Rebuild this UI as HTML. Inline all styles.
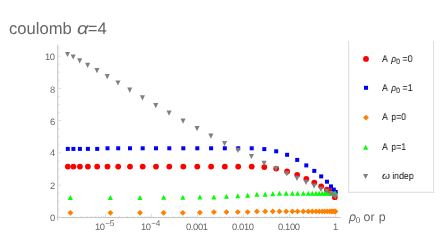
<!DOCTYPE html>
<html><head><meta charset="utf-8"><style>
html,body{margin:0;padding:0;background:#fff;}
body{width:443px;height:243px;position:relative;overflow:hidden;font-family:"Liberation Sans",sans-serif;}
.t{position:absolute;white-space:nowrap;line-height:1;color:#666666;will-change:transform;text-rendering:geometricPrecision;}
.tk{letter-spacing:-0.36px;}
.lg{color:#0d0d0d;transform:scaleX(0.9);transform-origin:0 0;}
sub.s{font-size:0.8em;vertical-align:baseline;position:relative;top:0.3em;line-height:0;}
sub.s2{font-size:0.67em;vertical-align:baseline;position:relative;top:1.9px;line-height:0;margin-left:-0.3px;margin-right:-0.3px;}
sup.s{font-size:0.88em;vertical-align:baseline;position:relative;top:-0.45em;line-height:0;margin-left:0.6px;}
i{font-style:italic;}
.a{margin-right:1.1px;}
.om{display:inline-block;transform:scaleX(1.18);transform-origin:0 100%;margin-right:1.2px;}
.al{display:inline-block;transform:scaleX(1.2);transform-origin:0 100%;margin-left:0.8px;margin-right:1.2px;}
</style></head><body>
<svg width="443" height="243" viewBox="0 0 443 243" style="position:absolute;left:0;top:0">
<rect x="57.2" y="44.7" width="1.1" height="175.8" fill="#c6c6c6"/>
<rect x="56.5" y="216.95" width="284.2" height="1.1" fill="#c6c6c6"/>
<rect x="58" y="216.90" width="3.2" height="1" fill="#e0e0e0"/>
<rect x="58" y="208.84" width="1.8" height="1" fill="#e0e0e0"/>
<rect x="58" y="200.77" width="1.8" height="1" fill="#e0e0e0"/>
<rect x="58" y="192.71" width="1.8" height="1" fill="#e0e0e0"/>
<rect x="58" y="184.64" width="3.2" height="1" fill="#e0e0e0"/>
<rect x="58" y="176.58" width="1.8" height="1" fill="#e0e0e0"/>
<rect x="58" y="168.51" width="1.8" height="1" fill="#e0e0e0"/>
<rect x="58" y="160.44" width="1.8" height="1" fill="#e0e0e0"/>
<rect x="58" y="152.38" width="3.2" height="1" fill="#e0e0e0"/>
<rect x="58" y="144.31" width="1.8" height="1" fill="#e0e0e0"/>
<rect x="58" y="136.25" width="1.8" height="1" fill="#e0e0e0"/>
<rect x="58" y="128.19" width="1.8" height="1" fill="#e0e0e0"/>
<rect x="58" y="120.12" width="3.2" height="1" fill="#e0e0e0"/>
<rect x="58" y="112.06" width="1.8" height="1" fill="#e0e0e0"/>
<rect x="58" y="103.99" width="1.8" height="1" fill="#e0e0e0"/>
<rect x="58" y="95.93" width="1.8" height="1" fill="#e0e0e0"/>
<rect x="58" y="87.86" width="3.2" height="1" fill="#e0e0e0"/>
<rect x="58" y="79.80" width="1.8" height="1" fill="#e0e0e0"/>
<rect x="58" y="71.73" width="1.8" height="1" fill="#e0e0e0"/>
<rect x="58" y="63.67" width="1.8" height="1" fill="#e0e0e0"/>
<rect x="58" y="55.60" width="3.2" height="1" fill="#e0e0e0"/>
<rect x="58" y="47.54" width="1.8" height="1" fill="#e0e0e0"/>
<rect x="59.00" y="216.10" width="1" height="0.9" fill="#e0e0e0"/>
<rect x="72.85" y="216.10" width="1" height="0.9" fill="#e0e0e0"/>
<rect x="80.95" y="216.10" width="1" height="0.9" fill="#e0e0e0"/>
<rect x="86.69" y="216.10" width="1" height="0.9" fill="#e0e0e0"/>
<rect x="91.15" y="216.10" width="1" height="0.9" fill="#e0e0e0"/>
<rect x="94.79" y="216.10" width="1" height="0.9" fill="#e0e0e0"/>
<rect x="97.87" y="216.10" width="1" height="0.9" fill="#e0e0e0"/>
<rect x="100.54" y="216.10" width="1" height="0.9" fill="#e0e0e0"/>
<rect x="102.90" y="216.10" width="1" height="0.9" fill="#e0e0e0"/>
<rect x="105.00" y="214.00" width="1" height="3.0" fill="#e0e0e0"/>
<rect x="118.85" y="216.10" width="1" height="0.9" fill="#e0e0e0"/>
<rect x="126.95" y="216.10" width="1" height="0.9" fill="#e0e0e0"/>
<rect x="132.69" y="216.10" width="1" height="0.9" fill="#e0e0e0"/>
<rect x="137.15" y="216.10" width="1" height="0.9" fill="#e0e0e0"/>
<rect x="140.79" y="216.10" width="1" height="0.9" fill="#e0e0e0"/>
<rect x="143.87" y="216.10" width="1" height="0.9" fill="#e0e0e0"/>
<rect x="146.54" y="216.10" width="1" height="0.9" fill="#e0e0e0"/>
<rect x="148.90" y="216.10" width="1" height="0.9" fill="#e0e0e0"/>
<rect x="151.00" y="214.00" width="1" height="3.0" fill="#e0e0e0"/>
<rect x="164.85" y="216.10" width="1" height="0.9" fill="#e0e0e0"/>
<rect x="172.95" y="216.10" width="1" height="0.9" fill="#e0e0e0"/>
<rect x="178.69" y="216.10" width="1" height="0.9" fill="#e0e0e0"/>
<rect x="183.15" y="216.10" width="1" height="0.9" fill="#e0e0e0"/>
<rect x="186.79" y="216.10" width="1" height="0.9" fill="#e0e0e0"/>
<rect x="189.87" y="216.10" width="1" height="0.9" fill="#e0e0e0"/>
<rect x="192.54" y="216.10" width="1" height="0.9" fill="#e0e0e0"/>
<rect x="194.90" y="216.10" width="1" height="0.9" fill="#e0e0e0"/>
<rect x="197.00" y="214.00" width="1" height="3.0" fill="#e0e0e0"/>
<rect x="210.85" y="216.10" width="1" height="0.9" fill="#e0e0e0"/>
<rect x="218.95" y="216.10" width="1" height="0.9" fill="#e0e0e0"/>
<rect x="224.69" y="216.10" width="1" height="0.9" fill="#e0e0e0"/>
<rect x="229.15" y="216.10" width="1" height="0.9" fill="#e0e0e0"/>
<rect x="232.79" y="216.10" width="1" height="0.9" fill="#e0e0e0"/>
<rect x="235.87" y="216.10" width="1" height="0.9" fill="#e0e0e0"/>
<rect x="238.54" y="216.10" width="1" height="0.9" fill="#e0e0e0"/>
<rect x="240.90" y="216.10" width="1" height="0.9" fill="#e0e0e0"/>
<rect x="243.00" y="214.00" width="1" height="3.0" fill="#e0e0e0"/>
<rect x="256.85" y="216.10" width="1" height="0.9" fill="#e0e0e0"/>
<rect x="264.95" y="216.10" width="1" height="0.9" fill="#e0e0e0"/>
<rect x="270.69" y="216.10" width="1" height="0.9" fill="#e0e0e0"/>
<rect x="275.15" y="216.10" width="1" height="0.9" fill="#e0e0e0"/>
<rect x="278.79" y="216.10" width="1" height="0.9" fill="#e0e0e0"/>
<rect x="281.87" y="216.10" width="1" height="0.9" fill="#e0e0e0"/>
<rect x="284.54" y="216.10" width="1" height="0.9" fill="#e0e0e0"/>
<rect x="286.90" y="216.10" width="1" height="0.9" fill="#e0e0e0"/>
<rect x="289.00" y="214.00" width="1" height="3.0" fill="#e0e0e0"/>
<rect x="302.85" y="216.10" width="1" height="0.9" fill="#e0e0e0"/>
<rect x="310.95" y="216.10" width="1" height="0.9" fill="#e0e0e0"/>
<rect x="316.69" y="216.10" width="1" height="0.9" fill="#e0e0e0"/>
<rect x="321.15" y="216.10" width="1" height="0.9" fill="#e0e0e0"/>
<rect x="324.79" y="216.10" width="1" height="0.9" fill="#e0e0e0"/>
<rect x="327.87" y="216.10" width="1" height="0.9" fill="#e0e0e0"/>
<rect x="330.54" y="216.10" width="1" height="0.9" fill="#e0e0e0"/>
<rect x="332.90" y="216.10" width="1" height="0.9" fill="#e0e0e0"/>
<rect x="335.00" y="214.00" width="1" height="3.0" fill="#e0e0e0"/>
<circle cx="67.80" cy="166.60" r="2.9" fill="#ff0000"/>
<circle cx="73.40" cy="166.60" r="2.9" fill="#ff0000"/>
<circle cx="79.90" cy="166.60" r="2.9" fill="#ff0000"/>
<circle cx="87.90" cy="166.60" r="2.9" fill="#ff0000"/>
<circle cx="97.20" cy="166.60" r="2.9" fill="#ff0000"/>
<circle cx="107.50" cy="166.60" r="2.9" fill="#ff0000"/>
<circle cx="118.20" cy="166.60" r="2.9" fill="#ff0000"/>
<circle cx="130.00" cy="166.60" r="2.9" fill="#ff0000"/>
<circle cx="142.70" cy="166.60" r="2.9" fill="#ff0000"/>
<circle cx="156.00" cy="166.60" r="2.9" fill="#ff0000"/>
<circle cx="169.30" cy="166.60" r="2.9" fill="#ff0000"/>
<circle cx="183.30" cy="166.60" r="2.9" fill="#ff0000"/>
<circle cx="197.30" cy="166.60" r="2.9" fill="#ff0000"/>
<circle cx="211.10" cy="166.60" r="2.9" fill="#ff0000"/>
<circle cx="224.80" cy="166.60" r="2.9" fill="#ff0000"/>
<circle cx="238.20" cy="166.60" r="2.9" fill="#ff0000"/>
<circle cx="251.70" cy="166.60" r="2.9" fill="#ff0000"/>
<circle cx="264.30" cy="167.10" r="2.9" fill="#ff0000"/>
<circle cx="276.20" cy="168.60" r="2.9" fill="#ff0000"/>
<circle cx="287.10" cy="171.40" r="2.9" fill="#ff0000"/>
<circle cx="297.20" cy="174.80" r="2.9" fill="#ff0000"/>
<circle cx="306.30" cy="178.90" r="2.9" fill="#ff0000"/>
<circle cx="314.30" cy="182.60" r="2.9" fill="#ff0000"/>
<circle cx="321.20" cy="186.30" r="2.9" fill="#ff0000"/>
<circle cx="326.90" cy="189.70" r="2.9" fill="#ff0000"/>
<circle cx="330.40" cy="191.20" r="2.9" fill="#ff0000"/>
<circle cx="332.80" cy="193.30" r="2.9" fill="#ff0000"/>
<circle cx="334.80" cy="197.20" r="2.9" fill="#ff0000"/>
<rect x="65.80" y="146.90" width="4.0" height="4.0" fill="#0000ff"/>
<rect x="71.40" y="146.90" width="4.0" height="4.0" fill="#0000ff"/>
<rect x="77.90" y="146.90" width="4.0" height="4.0" fill="#0000ff"/>
<rect x="85.90" y="146.90" width="4.0" height="4.0" fill="#0000ff"/>
<rect x="95.20" y="146.90" width="4.0" height="4.0" fill="#0000ff"/>
<rect x="105.50" y="146.30" width="4.0" height="4.0" fill="#0000ff"/>
<rect x="116.20" y="146.30" width="4.0" height="4.0" fill="#0000ff"/>
<rect x="128.00" y="146.30" width="4.0" height="4.0" fill="#0000ff"/>
<rect x="140.70" y="146.30" width="4.0" height="4.0" fill="#0000ff"/>
<rect x="154.00" y="146.30" width="4.0" height="4.0" fill="#0000ff"/>
<rect x="167.30" y="146.30" width="4.0" height="4.0" fill="#0000ff"/>
<rect x="181.30" y="146.30" width="4.0" height="4.0" fill="#0000ff"/>
<rect x="195.30" y="146.30" width="4.0" height="4.0" fill="#0000ff"/>
<rect x="209.10" y="146.30" width="4.0" height="4.0" fill="#0000ff"/>
<rect x="222.80" y="146.30" width="4.0" height="4.0" fill="#0000ff"/>
<rect x="236.20" y="146.30" width="4.0" height="4.0" fill="#0000ff"/>
<rect x="249.70" y="146.30" width="4.0" height="4.0" fill="#0000ff"/>
<rect x="262.30" y="147.10" width="4.0" height="4.0" fill="#0000ff"/>
<rect x="274.20" y="149.30" width="4.0" height="4.0" fill="#0000ff"/>
<rect x="285.10" y="152.80" width="4.0" height="4.0" fill="#0000ff"/>
<rect x="295.20" y="157.90" width="4.0" height="4.0" fill="#0000ff"/>
<rect x="304.30" y="163.40" width="4.0" height="4.0" fill="#0000ff"/>
<rect x="312.30" y="168.90" width="4.0" height="4.0" fill="#0000ff"/>
<rect x="319.20" y="174.40" width="4.0" height="4.0" fill="#0000ff"/>
<rect x="325.00" y="179.70" width="4.0" height="4.0" fill="#0000ff"/>
<rect x="329.00" y="184.40" width="4.0" height="4.0" fill="#0000ff"/>
<rect x="331.80" y="187.60" width="4.0" height="4.0" fill="#0000ff"/>
<rect x="333.70" y="190.00" width="4.0" height="4.0" fill="#0000ff"/>
<polygon points="70.40,209.95 73.35,212.80 70.40,215.65 67.45,212.80" fill="#ff8000"/>
<polygon points="110.40,209.95 113.35,212.80 110.40,215.65 107.45,212.80" fill="#ff8000"/>
<polygon points="140.00,209.95 142.95,212.80 140.00,215.65 137.05,212.80" fill="#ff8000"/>
<polygon points="163.60,209.95 166.55,212.80 163.60,215.65 160.65,212.80" fill="#ff8000"/>
<polygon points="182.80,209.95 185.75,212.80 182.80,215.65 179.85,212.80" fill="#ff8000"/>
<polygon points="199.90,209.75 202.85,212.60 199.90,215.45 196.95,212.60" fill="#ff8000"/>
<polygon points="213.90,209.25 216.85,212.10 213.90,214.95 210.95,212.10" fill="#ff8000"/>
<polygon points="226.50,209.25 229.45,212.10 226.50,214.95 223.55,212.10" fill="#ff8000"/>
<polygon points="237.80,209.15 240.75,212.00 237.80,214.85 234.85,212.00" fill="#ff8000"/>
<polygon points="247.60,209.15 250.55,212.00 247.60,214.85 244.65,212.00" fill="#ff8000"/>
<polygon points="256.90,208.55 259.85,211.40 256.90,214.25 253.95,211.40" fill="#ff8000"/>
<polygon points="265.20,208.55 268.15,211.40 265.20,214.25 262.25,211.40" fill="#ff8000"/>
<polygon points="272.80,208.55 275.75,211.40 272.80,214.25 269.85,211.40" fill="#ff8000"/>
<polygon points="279.50,208.55 282.45,211.40 279.50,214.25 276.55,211.40" fill="#ff8000"/>
<polygon points="286.20,208.55 289.15,211.40 286.20,214.25 283.25,211.40" fill="#ff8000"/>
<polygon points="292.40,208.55 295.35,211.40 292.40,214.25 289.45,211.40" fill="#ff8000"/>
<polygon points="297.60,208.55 300.55,211.40 297.60,214.25 294.65,211.40" fill="#ff8000"/>
<polygon points="303.30,208.55 306.25,211.40 303.30,214.25 300.35,211.40" fill="#ff8000"/>
<polygon points="308.30,208.55 311.25,211.40 308.30,214.25 305.35,211.40" fill="#ff8000"/>
<polygon points="312.30,208.55 315.25,211.40 312.30,214.25 309.35,211.40" fill="#ff8000"/>
<polygon points="316.00,208.55 318.95,211.40 316.00,214.25 313.05,211.40" fill="#ff8000"/>
<polygon points="319.10,208.55 322.05,211.40 319.10,214.25 316.15,211.40" fill="#ff8000"/>
<polygon points="322.20,208.55 325.15,211.40 322.20,214.25 319.25,211.40" fill="#ff8000"/>
<polygon points="324.70,208.55 327.65,211.40 324.70,214.25 321.75,211.40" fill="#ff8000"/>
<polygon points="327.20,208.55 330.15,211.40 327.20,214.25 324.25,211.40" fill="#ff8000"/>
<polygon points="329.70,208.55 332.65,211.40 329.70,214.25 326.75,211.40" fill="#ff8000"/>
<polygon points="331.50,208.55 334.45,211.40 331.50,214.25 328.55,211.40" fill="#ff8000"/>
<polygon points="332.90,208.55 335.85,211.40 332.90,214.25 329.95,211.40" fill="#ff8000"/>
<polygon points="334.30,208.55 337.25,211.40 334.30,214.25 331.35,211.40" fill="#ff8000"/>
<polygon points="335.50,208.55 338.45,211.40 335.50,214.25 332.55,211.40" fill="#ff8000"/>
<polygon points="70.40,195.05 72.90,200.05 67.90,200.05" fill="#00ff00"/>
<polygon points="110.40,195.05 112.90,200.05 107.90,200.05" fill="#00ff00"/>
<polygon points="140.00,195.05 142.50,200.05 137.50,200.05" fill="#00ff00"/>
<polygon points="163.60,194.85 166.10,199.85 161.10,199.85" fill="#00ff00"/>
<polygon points="182.80,194.85 185.30,199.85 180.30,199.85" fill="#00ff00"/>
<polygon points="199.90,194.45 202.40,199.45 197.40,199.45" fill="#00ff00"/>
<polygon points="213.90,194.45 216.40,199.45 211.40,199.45" fill="#00ff00"/>
<polygon points="226.50,193.85 229.00,198.85 224.00,198.85" fill="#00ff00"/>
<polygon points="237.80,193.25 240.30,198.25 235.30,198.25" fill="#00ff00"/>
<polygon points="247.60,192.75 250.10,197.75 245.10,197.75" fill="#00ff00"/>
<polygon points="256.90,191.85 259.40,196.85 254.40,196.85" fill="#00ff00"/>
<polygon points="265.20,191.85 267.70,196.85 262.70,196.85" fill="#00ff00"/>
<polygon points="272.80,191.35 275.30,196.35 270.30,196.35" fill="#00ff00"/>
<polygon points="279.50,190.75 282.00,195.75 277.00,195.75" fill="#00ff00"/>
<polygon points="286.20,190.75 288.70,195.75 283.70,195.75" fill="#00ff00"/>
<polygon points="292.40,190.75 294.90,195.75 289.90,195.75" fill="#00ff00"/>
<polygon points="297.60,190.75 300.10,195.75 295.10,195.75" fill="#00ff00"/>
<polygon points="303.30,190.75 305.80,195.75 300.80,195.75" fill="#00ff00"/>
<polygon points="308.30,190.75 310.80,195.75 305.80,195.75" fill="#00ff00"/>
<polygon points="312.30,190.75 314.80,195.75 309.80,195.75" fill="#00ff00"/>
<polygon points="316.00,190.75 318.50,195.75 313.50,195.75" fill="#00ff00"/>
<polygon points="319.10,190.75 321.60,195.75 316.60,195.75" fill="#00ff00"/>
<polygon points="322.20,190.75 324.70,195.75 319.70,195.75" fill="#00ff00"/>
<polygon points="324.70,190.75 327.20,195.75 322.20,195.75" fill="#00ff00"/>
<polygon points="327.20,190.75 329.70,195.75 324.70,195.75" fill="#00ff00"/>
<polygon points="329.70,190.75 332.20,195.75 327.20,195.75" fill="#00ff00"/>
<polygon points="331.50,190.75 334.00,195.75 329.00,195.75" fill="#00ff00"/>
<polygon points="332.90,190.75 335.40,195.75 330.40,195.75" fill="#00ff00"/>
<polygon points="334.30,190.75 336.80,195.75 331.80,195.75" fill="#00ff00"/>
<polygon points="335.50,190.75 338.00,195.75 333.00,195.75" fill="#00ff00"/>
<polygon points="65.00,51.90 70.10,51.90 67.55,57.10" fill="#808080"/>
<polygon points="70.60,54.40 75.70,54.40 73.15,59.60" fill="#808080"/>
<polygon points="77.10,58.30 82.20,58.30 79.65,63.50" fill="#808080"/>
<polygon points="85.10,62.80 90.20,62.80 87.65,68.00" fill="#808080"/>
<polygon points="94.40,68.10 99.50,68.10 96.95,73.30" fill="#808080"/>
<polygon points="104.70,74.00 109.80,74.00 107.25,79.20" fill="#808080"/>
<polygon points="115.40,80.40 120.50,80.40 117.95,85.60" fill="#808080"/>
<polygon points="127.20,87.50 132.30,87.50 129.75,92.70" fill="#808080"/>
<polygon points="139.90,95.30 145.00,95.30 142.45,100.50" fill="#808080"/>
<polygon points="153.20,103.00 158.30,103.00 155.75,108.20" fill="#808080"/>
<polygon points="166.50,110.50 171.60,110.50 169.05,115.70" fill="#808080"/>
<polygon points="180.50,118.60 185.60,118.60 183.05,123.80" fill="#808080"/>
<polygon points="194.50,126.10 199.60,126.10 197.05,131.30" fill="#808080"/>
<polygon points="208.30,133.60 213.40,133.60 210.85,138.80" fill="#808080"/>
<polygon points="222.00,141.00 227.10,141.00 224.55,146.20" fill="#808080"/>
<polygon points="235.40,147.70 240.50,147.70 237.95,152.90" fill="#808080"/>
<polygon points="248.90,153.90 254.00,153.90 251.45,159.10" fill="#808080"/>
<polygon points="261.50,160.80 266.60,160.80 264.05,166.00" fill="#808080"/>
<polygon points="273.40,166.00 278.50,166.00 275.95,171.20" fill="#808080"/>
<polygon points="284.30,171.30 289.40,171.30 286.85,176.50" fill="#808080"/>
<polygon points="294.40,175.70 299.50,175.70 296.95,180.90" fill="#808080"/>
<polygon points="303.50,179.70 308.60,179.70 306.05,184.90" fill="#808080"/>
<polygon points="311.50,183.50 316.60,183.50 314.05,188.70" fill="#808080"/>
<polygon points="318.40,186.70 323.50,186.70 320.95,191.90" fill="#808080"/>
<polygon points="324.10,188.80 329.20,188.80 326.65,194.00" fill="#808080"/>
<polygon points="327.90,191.10 333.00,191.10 330.45,196.30" fill="#808080"/>
<polygon points="330.60,192.60 335.70,192.60 333.15,197.80" fill="#808080"/>
<polygon points="332.70,194.20 337.80,194.20 335.25,199.40" fill="#808080"/>
<rect x="348.2" y="40.9" width="1" height="151.9" fill="#dcdcdc"/>
<rect x="433.1" y="40.9" width="1" height="151.9" fill="#dcdcdc"/>
<rect x="348.2" y="191.8" width="85.9" height="1" fill="#dcdcdc"/>
<circle cx="366.00" cy="58.90" r="2.9" fill="#ff0000"/>
<rect x="364.00" y="85.80" width="4.0" height="4.0" fill="#0000ff"/>
<polygon points="366.00,114.75 368.95,117.60 366.00,120.45 363.05,117.60" fill="#ff8000"/>
<polygon points="365.60,144.80 368.10,149.80 363.10,149.80" fill="#00ff00"/>
<polygon points="363.05,173.90 368.15,173.90 365.60,179.10" fill="#808080"/>
</svg>
<div class="t " style="left:9.30px;top:21.013px;font-size:16.6px;">coulomb <i class="al">α</i>=4</div>
<div class="t tk" style="left:44.66px;top:52.013px;font-size:9.4px;">10</div>
<div class="t tk" style="left:49.53px;top:85.013px;font-size:9.4px;">8</div>
<div class="t tk" style="left:49.53px;top:117.013px;font-size:9.4px;">6</div>
<div class="t tk" style="left:49.53px;top:148.013px;font-size:9.4px;">4</div>
<div class="t tk" style="left:49.53px;top:181.013px;font-size:9.4px;">2</div>
<div class="t tk" style="left:49.53px;top:213.013px;font-size:9.4px;">0</div>
<div class="t tk" style="left:95.23px;top:222.013px;font-size:9.4px;">10<sup class="s">−5</sup></div>
<div class="t tk" style="left:141.23px;top:222.013px;font-size:9.4px;">10<sup class="s">−4</sup></div>
<div class="t tk" style="left:185.64px;top:222.013px;font-size:9.4px;">0.001</div>
<div class="t tk" style="left:232.04px;top:222.013px;font-size:9.4px;">0.010</div>
<div class="t tk" style="left:278.04px;top:222.013px;font-size:9.4px;">0.100</div>
<div class="t tk" style="left:333.07px;top:222.013px;font-size:9.4px;">1</div>
<div class="t " style="left:348.60px;top:211.012px;font-size:12.4px;"><i>ρ</i><sub class="s2">0</sub> or<span style="margin-left:0.8px"> </span>p</div>
<div class="t lg" style="left:381.50px;top:55.010px;font-size:9.7px;"><span class="a">A</span> <i>ρ</i><sub class="s">0</sub> =0</div>
<div class="t lg" style="left:381.50px;top:84.010px;font-size:9.7px;"><span class="a">A</span> <i>ρ</i><sub class="s">0</sub> =1</div>
<div class="t lg" style="left:381.50px;top:113.010px;font-size:9.7px;"><span class="a">A</span> p=0</div>
<div class="t lg" style="left:381.50px;top:143.010px;font-size:9.7px;"><span class="a">A</span> p=1</div>
<div class="t lg" style="left:381.50px;top:172.010px;font-size:9.7px;"><i class="om">ω</i> indep</div>
</body></html>
